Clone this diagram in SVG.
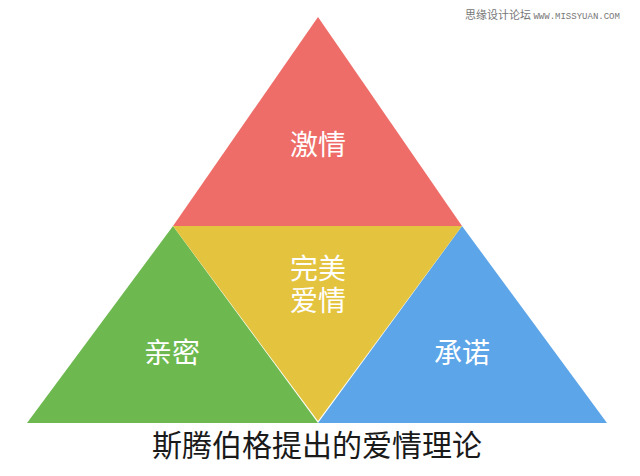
<svg xmlns="http://www.w3.org/2000/svg" width="640" height="476" viewBox="0 0 640 476">
<style>
.lbl{font-family:"Noto Sans CJK SC","Noto Sans",sans-serif;fill:#ffffff;font-size:28px;text-anchor:middle}
.title{font-family:"Noto Sans CJK SC","Noto Sans",sans-serif;fill:#1a1a1a;font-size:30px;text-anchor:middle}
.wm{font-family:"Noto Sans CJK SC","Liberation Sans",sans-serif;fill:#777;font-size:11px}
</style>
<rect width="640" height="476" fill="#ffffff"/>
<g id="passion">
<polygon points="318,17 173,226 462,226" fill="#EE6D68"/>
<text class="lbl" x="318" y="155">激情</text>
</g>
<g id="intimacy">
<polygon points="173,226 27,423 318,423" fill="#6DB94F"/>
<text class="lbl" x="172" y="363">亲密</text>
</g>
<g id="commitment">
<polygon points="462,226 318,423 607,423" fill="#5CA5E8"/>
<text class="lbl" x="462" y="363">承诺</text>
</g>
<g id="consummate">
<polygon points="173,226 462,226 318,421" fill="#E4C43F"/>
<text class="lbl" x="318" y="279">完美<tspan x="318" dy="32">爱情</tspan></text>
</g>
<g id="connectors"></g>
<text class="title" x="317" y="456">斯腾伯格提出的爱情理论</text>
<text class="wm" x="465" y="19">思缘设计论坛 <tspan font-family="Liberation Mono,monospace" font-size="9">WWW.MISSYUAN.COM</tspan></text>
</svg>
